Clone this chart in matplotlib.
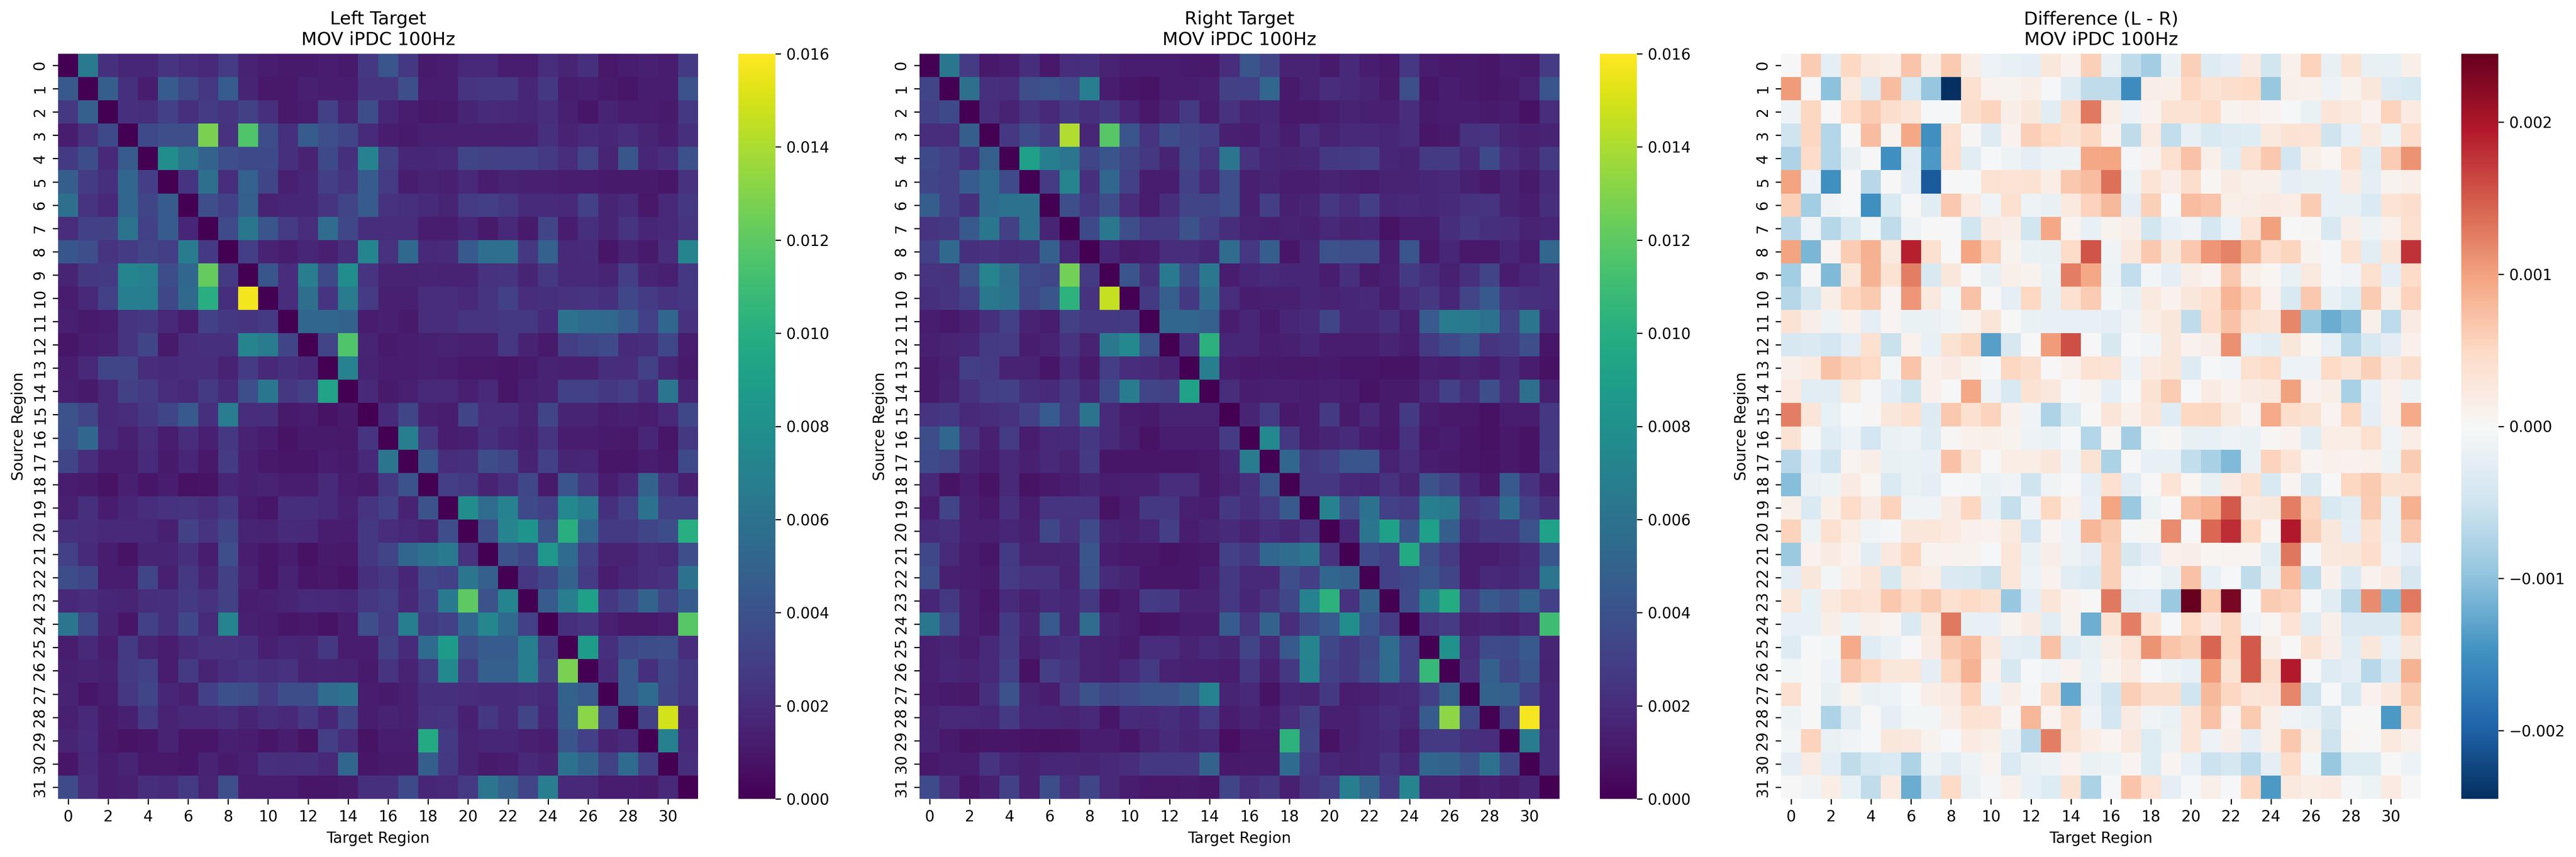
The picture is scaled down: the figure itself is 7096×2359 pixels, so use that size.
import numpy as np
import matplotlib
matplotlib.use("Agg")
import matplotlib.pyplot as plt
import seaborn as sns

# values: left/right in units of 1e-4, difference in 1e-5
left_target = [
    [0,65,22,17,17,24,20,18,28,15,13,11,11,13,11,26,42,26,11,12,18,18,12,12,20,16,22,10,12,14,12,27],
    [44,0,47,22,13,45,34,25,46,16,10,10,14,13,13,24,24,38,12,13,24,25,25,17,26,12,14,11,9,13,12,40],
    [26,48,0,22,21,30,22,28,24,31,22,10,13,30,15,37,17,13,10,11,16,19,18,17,20,14,9,16,13,13,11,26],
    [12,23,35,0,35,38,38,128,23,116,37,22,46,38,33,19,13,11,14,14,14,14,14,14,22,15,19,17,20,16,13,22],
    [27,37,18,45,0,78,62,50,38,35,35,22,15,35,22,70,31,17,17,18,33,31,30,30,27,20,32,16,43,17,21,39],
    [47,28,22,53,29,0,24,58,20,49,33,14,17,29,24,46,28,13,15,14,18,13,15,14,14,13,13,11,11,11,9,23],
    [58,24,18,52,33,45,0,38,30,48,15,17,17,24,32,45,23,22,19,16,28,29,26,19,19,18,30,16,19,10,18,26],
    [20,30,31,61,30,46,17,0,36,63,42,28,20,56,34,21,20,20,13,13,17,11,18,11,32,12,22,16,24,17,18,24],
    [43,38,24,28,32,29,66,27,0,29,15,13,17,14,21,73,23,54,18,19,44,57,57,25,49,18,19,9,15,11,20,72],
    [16,26,27,73,69,37,53,122,27,0,43,20,67,35,78,24,15,15,16,15,15,23,24,16,26,18,18,16,29,16,14,26],
    [12,18,30,68,68,34,54,100,21,157,0,20,58,24,66,28,14,14,20,20,18,24,30,20,22,23,24,22,34,28,23,25],
    [14,11,12,24,26,18,12,30,26,24,27,0,53,52,50,12,14,11,20,20,24,24,26,26,19,60,55,54,46,30,52,23],
    [9,12,14,24,33,11,20,22,22,72,66,32,0,32,116,16,11,12,14,15,14,14,25,15,11,29,33,36,19,21,34,12],
    [12,18,33,32,20,19,20,20,15,28,18,22,18,0,70,15,13,13,14,13,10,10,9,11,15,14,14,21,20,31,17,11],
    [14,11,18,31,28,20,18,27,19,38,63,25,31,93,0,18,11,14,18,18,14,18,9,14,15,30,30,26,29,21,62,16],
    [40,32,18,20,26,33,44,22,67,20,21,11,13,8,11,0,19,33,14,12,32,20,21,15,33,16,16,12,14,12,18,34],
    [39,53,19,14,20,12,20,14,26,15,13,8,11,11,10,24,0,68,25,12,14,22,17,14,24,12,12,11,10,17,9,26],
    [33,20,12,13,19,11,17,10,28,14,10,9,9,13,11,18,62,0,43,20,22,37,33,15,30,16,17,9,9,12,10,35],
    [12,11,8,14,9,13,7,8,17,14,15,13,12,19,12,11,26,40,0,29,27,15,22,34,11,42,25,13,18,50,24,14],
    [14,22,13,17,20,23,24,20,27,12,9,21,21,19,14,24,30,15,40,0,78,56,70,35,30,75,65,22,30,60,30,30],
    [22,20,18,18,18,14,31,24,33,16,15,19,18,13,13,26,20,18,15,38,0,38,72,83,40,101,53,27,27,33,37,100],
    [30,19,13,8,16,16,22,13,38,13,9,13,7,11,10,26,32,52,60,65,23,0,40,34,85,55,30,15,15,20,18,38],
    [37,33,12,13,33,14,26,16,31,15,9,15,9,10,8,22,25,17,34,30,62,48,0,25,34,50,28,12,17,20,23,60],
    [18,20,17,16,21,22,27,23,31,13,14,16,19,18,17,25,29,18,30,65,120,40,73,0,45,67,90,26,34,50,32,46],
    [62,35,16,9,30,22,34,19,72,14,12,9,10,8,13,38,28,68,27,30,52,74,55,30,0,22,24,14,10,10,13,118],
    [12,18,13,27,16,12,19,23,23,22,14,17,16,26,12,13,31,19,55,88,38,46,46,68,27,0,88,22,34,37,38,20],
    [14,15,14,27,30,12,27,16,21,24,21,23,15,16,15,11,24,15,27,75,28,48,48,68,31,128,0,19,44,22,34,26],
    [15,9,12,25,33,17,14,30,39,37,28,37,37,56,60,13,11,14,22,22,20,19,19,20,18,50,44,0,44,55,33,25],
    [14,18,11,14,27,15,18,18,21,16,21,18,26,17,33,13,15,14,23,24,14,26,19,32,17,48,132,33,0,31,149,16],
    [16,19,10,8,9,15,9,9,14,13,9,12,8,29,20,8,13,12,97,27,15,17,17,14,13,42,30,15,19,0,69,19],
    [9,18,12,16,10,10,9,15,11,14,22,21,22,18,52,9,11,11,47,26,15,11,13,18,15,60,50,31,55,29,0,21],
    [36,20,12,14,21,19,27,16,38,13,12,12,9,9,11,22,22,35,17,18,27,62,49,32,67,18,18,12,12,11,18,0],
]

right_target = [
    [0,63,28,10,13,21,10,20,22,15,13,12,12,11,10,20,42,32,15,15,11,18,13,10,25,12,10,11,9,13,11,28],
    [32,0,58,22,20,38,40,36,68,13,9,8,13,13,14,31,30,53,11,15,20,18,16,11,38,9,12,11,9,11,15,42],
    [30,35,0,20,15,24,18,26,22,26,17,10,15,27,13,23,16,17,10,10,13,15,14,14,20,11,13,12,11,12,7,20],
    [20,20,47,0,25,36,28,141,17,118,42,24,37,32,29,14,12,18,13,20,15,18,18,17,20,9,11,23,24,16,14,15],
    [35,30,22,48,0,90,68,62,33,42,33,25,16,34,24,62,23,17,16,17,26,27,29,17,15,27,27,18,35,20,16,27],
    [33,30,45,55,36,0,28,72,22,52,30,13,13,30,18,38,14,16,13,13,15,14,12,15,15,17,18,14,10,15,11,19],
    [47,30,22,55,60,60,0,38,26,38,20,12,21,32,32,38,14,29,14,16,25,20,29,17,18,17,19,23,24,15,12,21],
    [24,26,44,63,31,60,16,0,35,64,38,27,27,40,29,21,15,14,15,14,18,15,17,8,12,12,21,25,22,20,15,17],
    [30,54,22,23,20,22,48,17,0,17,11,12,20,20,17,56,25,47,9,17,40,38,38,13,42,10,17,10,10,17,13,52],
    [24,23,40,72,58,36,33,126,27,0,42,22,65,35,64,13,17,19,17,17,12,22,11,14,27,21,14,22,32,13,17,21],
    [22,24,30,64,60,34,42,103,23,146,0,27,48,26,56,20,13,14,14,17,15,17,18,13,20,25,17,32,44,24,22,20],
    [12,10,14,22,30,15,13,31,26,26,27,0,52,52,48,13,17,11,17,19,33,17,17,22,14,45,66,65,60,30,62,17],
    [14,15,17,27,28,13,15,24,15,64,75,40,0,22,102,17,17,12,14,17,12,12,12,16,12,27,35,42,24,27,38,9],
    [11,14,29,28,15,15,9,19,11,29,20,19,15,0,68,12,10,11,10,10,11,9,9,8,8,14,12,16,13,19,12,7],
    [11,15,23,29,30,21,19,26,17,35,66,32,31,92,0,20,12,14,14,13,14,13,8,11,11,18,30,21,38,20,58,14],
    [24,26,18,20,23,30,45,27,61,19,13,11,15,15,15,0,16,27,10,13,27,11,18,11,27,12,10,10,7,12,12,25],
    [37,52,24,14,28,12,18,19,26,19,14,8,12,13,12,28,0,75,26,12,16,19,12,10,23,10,13,9,7,10,8,26],
    [36,32,16,13,18,14,18,15,27,9,9,9,9,9,10,17,66,0,52,26,30,42,42,15,20,12,11,9,8,10,8,28],
    [18,8,12,8,18,8,10,12,16,13,14,14,20,20,10,15,22,42,0,25,25,18,17,23,16,40,32,17,10,44,23,12],
    [13,32,14,10,22,13,24,24,24,8,13,26,25,14,12,26,21,28,44,0,70,38,60,30,28,68,64,25,30,55,30,22],
    [19,22,14,14,17,14,34,23,36,16,14,17,29,13,16,19,15,20,17,24,0,17,62,90,42,90,47,21,26,26,40,92],
    [34,19,12,9,27,15,15,16,42,13,10,10,8,9,10,30,26,52,56,62,23,0,36,30,97,38,28,13,12,15,19,43],
    [38,14,13,11,28,23,23,15,40,19,16,9,9,9,14,26,18,18,38,29,52,48,0,30,35,42,32,12,18,17,21,62],
    [17,26,14,9,19,14,19,17,26,9,12,28,26,15,15,25,17,24,34,70,103,23,50,0,36,66,98,29,44,38,50,30],
    [63,36,14,10,27,16,44,17,56,16,13,8,9,12,12,46,24,50,20,36,45,78,42,28,0,24,28,14,16,14,18,110],
    [14,16,12,18,28,14,19,22,15,14,11,20,20,15,19,16,32,18,44,72,34,26,34,56,30,0,80,20,36,35,44,16],
    [14,17,15,18,30,7,29,24,15,14,19,27,15,14,14,12,25,14,26,70,30,26,36,55,30,107,0,23,48,32,42,15],
    [13,11,10,22,40,16,12,28,40,33,36,41,40,47,70,16,18,8,17,16,26,12,14,17,18,29,50,0,50,48,30,17],
    [15,18,18,17,27,17,17,16,18,9,19,18,21,17,28,12,16,13,20,31,14,14,17,21,17,45,133,34,0,30,158,17],
    [16,11,8,9,9,8,7,8,12,13,9,15,19,16,18,6,10,10,103,32,8,14,17,19,12,27,27,22,20,0,66,19],
    [10,12,12,24,17,14,17,17,16,18,20,26,26,26,50,10,11,11,55,27,17,15,17,24,17,52,50,40,60,33,0,19],
    [36,20,9,14,30,14,37,21,33,18,12,10,10,11,9,33,21,25,14,24,29,68,50,27,72,15,16,11,14,11,16,0],
]

difference = [
    [0,62,-24,50,24,18,70,18,65,16,-14,-20,-24,28,10,58,-18,-62,-85,-16,58,-32,-24,20,-47,12,56,-18,36,-18,-20,14],
    [105,0,-100,24,-32,75,-40,-95,-245,40,10,8,16,-2,-32,-62,-62,-155,16,14,50,36,43,48,-92,14,12,-14,8,28,-32,-40],
    [-14,53,0,47,62,43,32,-2,-2,43,55,16,28,-28,43,130,18,-14,10,36,36,47,8,12,6,-2,-16,32,24,10,57,22],
    [-50,53,-72,0,75,8,95,-150,40,2,-32,10,60,49,36,53,10,-62,22,-60,-20,-40,-32,-30,24,36,34,-50,-20,24,-12,45],
    [-75,47,-72,-18,0,-150,-28,-140,41,-28,-2,-12,-24,-12,-12,95,96,-4,10,40,72,14,-28,40,66,-45,14,4,40,-28,62,110],
    [98,-14,-150,0,-68,0,-24,-205,0,-2,36,34,38,18,66,75,135,-12,34,16,43,4,20,14,14,-24,-18,-20,20,-24,8,14],
    [58,-85,-10,-2,-150,-40,0,-28,66,22,-10,40,-12,-18,24,56,80,-24,59,-2,75,69,14,16,20,18,62,-20,-18,-36,34,43],
    [-68,-8,-70,-40,-6,-62,-12,0,0,-47,20,16,-47,95,6,-20,8,16,-47,-20,-10,-44,-14,34,100,0,2,-40,16,-12,12,40],
    [98,-112,6,62,88,24,190,40,0,96,56,8,-16,-18,47,155,-10,26,66,28,66,108,122,82,45,55,8,-4,36,-28,32,178],
    [-85,0,-108,28,85,36,125,-40,28,0,-18,14,8,-16,125,95,-12,-60,-6,-24,16,6,66,14,4,-18,24,-4,-10,40,-24,47],
    [-70,-42,16,53,64,6,108,24,-6,72,0,-24,50,-18,40,62,-6,-18,24,10,28,40,84,57,10,-40,66,-16,-34,62,14,57],
    [36,16,-12,12,-24,6,-16,-16,-10,8,32,0,-16,-20,-20,-20,-24,-10,18,28,-62,45,72,36,32,120,-92,-122,-105,14,-65,20],
    [-42,-38,-45,-24,40,-55,10,-20,36,53,-135,-42,0,105,158,0,-42,-2,-8,28,10,16,112,-20,-28,28,4,-20,-72,-42,-26,12],
    [14,22,72,57,49,-6,69,12,20,8,-2,53,43,0,12,38,34,-14,22,30,-32,-2,-8,40,49,-14,-14,49,34,58,26,44],
    [22,-28,-28,24,-4,-26,-48,12,0,95,-12,-40,36,26,0,6,-24,-2,36,62,-2,20,10,20,24,100,10,16,-80,-20,12,-12],
    [125,32,-20,-2,2,28,40,-32,66,40,57,12,-10,-75,-34,0,32,12,32,-30,50,53,24,6,92,43,36,6,53,-24,12,92],
    [36,0,-30,-14,-45,-16,-14,-30,2,12,14,8,-14,-16,-2,-72,2,-85,-6,2,-18,-20,-14,-16,2,10,-28,18,18,40,-10,18],
    [-68,-24,-48,6,16,-18,-16,-20,72,30,0,18,18,28,-10,36,-78,0,-20,-20,-60,-80,-108,-16,57,34,6,12,10,12,-12,62],
    [-105,-16,-12,20,4,-38,-16,-24,-2,-4,-16,-10,-50,-10,0,-24,40,-28,0,34,4,-18,20,40,-40,6,-38,0,53,65,36,40],
    [14,-38,14,47,20,56,-10,-10,20,53,-20,-58,-10,50,12,-20,96,-90,-12,0,75,88,150,24,28,125,53,-40,-28,62,-16,88],
    [56,-12,40,18,-10,-4,28,30,22,12,10,24,-45,6,-14,82,62,-4,2,115,0,140,180,50,4,196,58,28,-24,40,-16,66],
    [-90,10,20,10,-28,26,53,8,10,8,-2,30,-16,16,-12,-24,58,-42,-24,12,16,4,6,6,-28,132,-4,26,28,45,-12,-24],
    [-26,28,-6,18,32,-42,24,18,-38,-40,-55,30,-14,10,-28,-36,58,-8,-4,-18,72,-20,-2,-62,-18,78,-60,12,-36,10,20,-42],
    [30,-20,24,40,34,66,49,62,40,49,40,-92,-24,32,10,0,130,-28,-24,-90,245,64,232,-2,62,56,-4,-28,-70,115,-105,130],
    [-20,-20,16,-12,14,6,-36,24,130,-20,-20,8,20,-28,8,-120,36,125,36,-2,48,26,53,-10,4,34,-28,14,-38,-38,-36,56],
    [-32,-2,-6,92,-30,-16,0,20,66,78,26,-24,-28,72,-30,-18,16,34,110,69,59,142,53,150,16,0,36,16,-28,28,-20,28],
    [-6,0,-14,66,50,28,30,-24,53,85,12,-42,-2,-10,10,-16,8,24,-2,-12,-20,105,36,150,43,195,0,-32,-24,-68,-36,85],
    [40,0,-18,8,-16,-14,-2,16,20,57,-14,16,-4,43,-128,-20,-48,60,43,43,-48,80,53,32,34,120,-50,-2,-40,10,26,62],
    [-12,0,-75,-28,0,-24,-6,-6,16,36,34,2,82,6,40,-10,-45,20,-10,-16,32,72,10,64,14,-10,-16,-42,0,0,-140,43],
    [-6,56,-16,-10,-2,28,26,8,-2,22,14,-18,-68,125,34,18,6,26,-34,-12,32,-14,16,-24,14,66,14,-50,4,0,24,12],
    [-24,20,-26,-62,-44,-36,-75,-12,-28,-12,6,-38,-16,-12,10,-16,-12,6,-34,6,-20,-52,-44,-65,-24,47,-6,-92,-34,-34,0,-14],
    [0,-10,18,-20,-62,22,-122,-40,49,-16,-4,12,-20,-34,36,-78,-2,70,34,-24,-2,14,-2,53,-140,24,18,22,-4,-12,22,0],
]

titles = ["Left Target\nMOV iPDC 100Hz", "Right Target\nMOV iPDC 100Hz", "Difference (L - R)\nMOV iPDC 100Hz"]
W, H = 7096, 2359


def add_box(fig, x0, x1):
    return fig.add_axes([x0 / W, 1 - 2199 / H, (x1 - x0) / W, 2051 / H])


def draw_panel(fig, data, title, x0, **kwargs):
    ax = add_box(fig, x0, x0 + 1763)
    cax = add_box(fig, x0 + 1874, x0 + 1976)
    sns.heatmap(data, ax=ax, cbar_ax=cax, **kwargs)
    ax.set_xticks(np.arange(0, 32, 2) + 0.5, labels=range(0, 32, 2), rotation=0)
    ax.set_yticks(np.arange(32) + 0.5, labels=range(32), rotation=90, va="center")
    ax.set_title(title, fontsize=12)
    ax.set_xlabel("Target Region")
    ax.set_ylabel("Source Region")
    return ax


def main():
    fig = plt.figure(figsize=(W / 300, H / 300), dpi=300)
    left = np.array(left_target) * 1e-4
    right = np.array(right_target) * 1e-4
    diff = np.array(difference) * 1e-5
    draw_panel(fig, left, titles[0], 160, cmap="viridis", vmin=0, vmax=0.016)
    draw_panel(fig, right, titles[1], 2533, cmap="viridis", vmin=0, vmax=0.016)
    draw_panel(fig, diff, titles[2], 4906, cmap="RdBu_r", center=0, vmin=-0.00245, vmax=0.00245)
    fig.savefig("out.png", dpi=300)
    plt.close(fig)


if __name__ == "__main__":
    main()
